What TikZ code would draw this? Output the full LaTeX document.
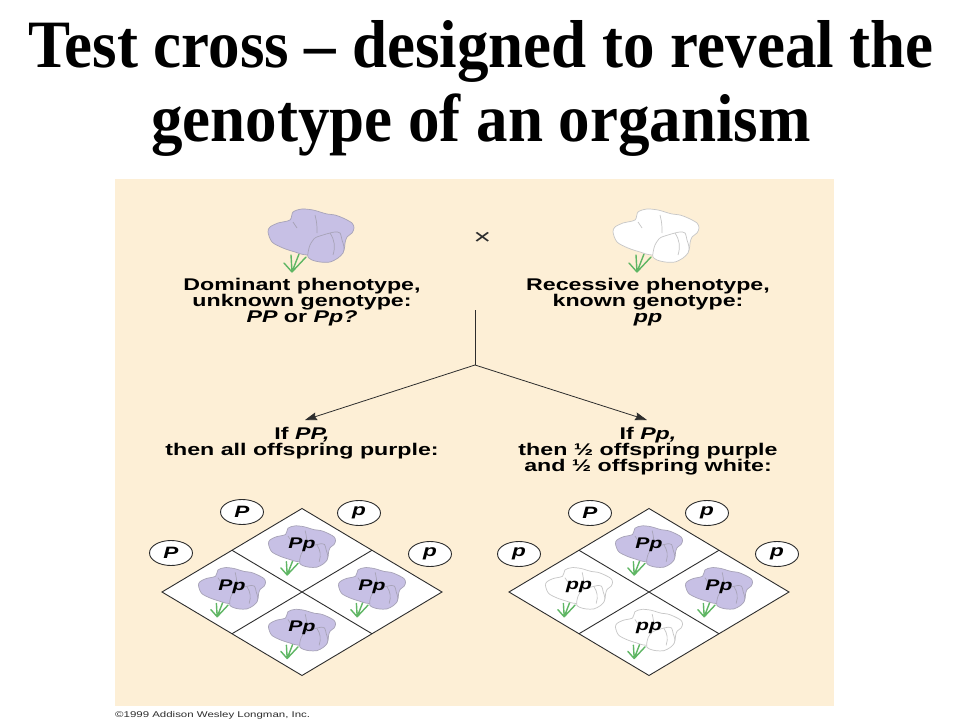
\documentclass[tikz,border=0pt]{standalone}
\usepackage{fontspec}
\usetikzlibrary{arrows.meta,shapes.geometric}
\newfontfamily\titlefont[FakeStretch=0.93]{Liberation Serif}
\newfontfamily\panelfont[FakeStretch=1.37]{Liberation Sans}
\definecolor{panelbg}{RGB}{253,239,214}
\definecolor{flowerpurple}{RGB}{199,192,229}
\definecolor{leaf}{RGB}{95,182,100}
\definecolor{ink}{RGB}{45,45,45}

\begin{document}
\begin{tikzpicture}[
		x=1bp, y=-1bp,
		headline/.style = {font=\titlefont\bfseries\fontsize{68}{74}\selectfont, anchor=base, inner sep=0pt},
		phen/.style = {font=\panelfont\bfseries\fontsize{17}{16.3}\selectfont, align=center, anchor=north, inner sep=0pt},
		geno/.style = {font=\panelfont\bfseries\itshape\fontsize{15.5}{15.5}\selectfont, inner sep=0pt},
		allele/.style = {shape=ellipse, draw=ink, line width=0.9bp, fill=white, minimum width=43bp, minimum height=25bp,
			inner sep=0pt, font=\panelfont\bfseries\itshape\fontsize{16.5}{16.5}\selectfont},
		square/.style = {draw=ink, line width=0.9bp},
		link/.style = {draw=ink, line width=0.8bp},
		arr/.style = {link, -{Stealth[length=12bp, width=8bp, inset=1.5bp]}},
		stalk/.style = {draw=leaf, line width=1.4bp, line cap=round},
		cellflower/.style = {scale=0.78},
		pics/flower/.style = {code={
			\draw[stalk] (-19,33) -- (-27,24) (-19,33) -- (-20,16) (-19,33) -- (-12,15) (-19,33) -- (-5,18);
			\filldraw[fill=#1, draw=#1!55!gray, line width=0.7bp] plot[smooth cycle, tension=0.5] coordinates {
				(-43,-7) (-41,-12) (-33,-16) (-21,-19) (-18,-27) (-9,-30) (2,-29) (9,-27) (16,-25) (24,-24) (32,-21)
				(41,-16) (43,-11) (41,-6) (36,-2) (34,4) (33,11) (27,16) (-4,16) (-16,13) (-28,9) (-39,3)};
			\draw[draw=#1!55!gray, line width=0.7bp] (-18,-17) -- (-14,-11) (4,-24) to[bend left=8] (6,-6);
			\filldraw[fill=#1, draw=#1!55!gray, line width=0.7bp] plot[smooth cycle, tension=0.5] coordinates {
				(-3,14) (-1,6) (4,-1) (12,-4) (19,-6) (24,-7) (29,-6) (31,1) (33,8) (32,14) (27,19) (19,23) (9,23)
				(1,21) (-3,18)};
			\draw[draw=#1!55!gray, line width=0.7bp] (19,-6) to[bend left=25] (22,16);
		}}]
	\fill[white] (0,0) rectangle (960,720);
	\useasboundingbox (0,0) rectangle (960,720);
	\fill[panelbg] (115,179) rectangle (834,706);

	\node[headline] (title1) at (481,68) {Test cross – designed to reveal the};
	\node[headline] (title2) at (481,142) {genotype of an organism};

	\pic at (311,239) {flower=flowerpurple};
	\pic at (656,239) {flower=white};
	\node[font=\panelfont\fontsize{22}{22}\selectfont, text=ink, inner sep=0pt] (cross) at (482.5,238.5) {×};

	\node[phen] (parL) at (302,277.6) {Dominant phenotype,\\unknown genotype:\\\textit{PP} or \textit{Pp?}};
	\node[phen] (parR) at (648,277.6) {Recessive phenotype,\\known genotype:\\\textit{pp}};

	\coordinate (join) at (475,310);
	\coordinate (fork) at (475,365);
	\coordinate (tipL) at (305,420);
	\coordinate (tipR) at (647,420);
	\draw[link] (join) -- (fork);
	\draw[arr] (fork) -- (tipL);
	\draw[arr] (fork) -- (tipR);

	\node[phen] (offL) at (302,426.6) {If \textit{PP,}\\then all offspring purple:};
	\node[phen] (offR) at (648,426.6) {If \textit{Pp,}\\then ½ offspring purple\\and ½ offspring white:};

	\begin{scope}[shift={(302,592)}]
		\filldraw[square, fill=white] (0,-83.5) -- (140,0) -- (0,83.5) -- (-140,0) -- cycle;
		\draw[square] (-70,-41.75) -- (70,41.75) (70,-41.75) -- (-70,41.75);
		\foreach \pos/\cx/\cy/\col/\gen in {top/0/-41.75/flowerpurple/Pp, left/-70/0/flowerpurple/Pp,
				right/70/0/flowerpurple/Pp, bottom/0/41.75/flowerpurple/Pp} {
			\pic[cellflower] at (\cx,\cy-1) {flower=\col};
			\node[geno] (L-\pos) at (\cx,\cy-5.5) {\gen};
		}
		\node[allele] (L-a1) at (-60,-80) {P};
		\node[allele] (L-a2) at (-131,-39) {P};
		\node[allele] (L-a3) at (57,-79) {p};
		\node[allele] (L-a4) at (128,-38) {p};
	\end{scope}

	\begin{scope}[shift={(649,592)}]
		\filldraw[square, fill=white] (0,-83.5) -- (140,0) -- (0,83.5) -- (-140,0) -- cycle;
		\draw[square] (-70,-41.75) -- (70,41.75) (70,-41.75) -- (-70,41.75);
		\foreach \pos/\cx/\cy/\col/\gen in {top/0/-41.75/flowerpurple/Pp, left/-70/0/white/pp,
				right/70/0/flowerpurple/Pp, bottom/0/41.75/white/pp} {
			\pic[cellflower] at (\cx,\cy-1) {flower=\col};
			\node[geno] (R-\pos) at (\cx,\cy-5.5) {\gen};
		}
		\node[allele] (R-a1) at (-59,-79) {P};
		\node[allele] (R-a2) at (-130,-38) {p};
		\node[allele] (R-a3) at (58,-79) {p};
		\node[allele] (R-a4) at (128,-38) {p};
	\end{scope}

	\node[anchor=base west, inner sep=0pt, font=\panelfont\fontsize{8.4}{9}\selectfont, text=ink] (credit) at (115,717)
		{©1999 Addison Wesley Longman, Inc.};
\end{tikzpicture}
\end{document}
